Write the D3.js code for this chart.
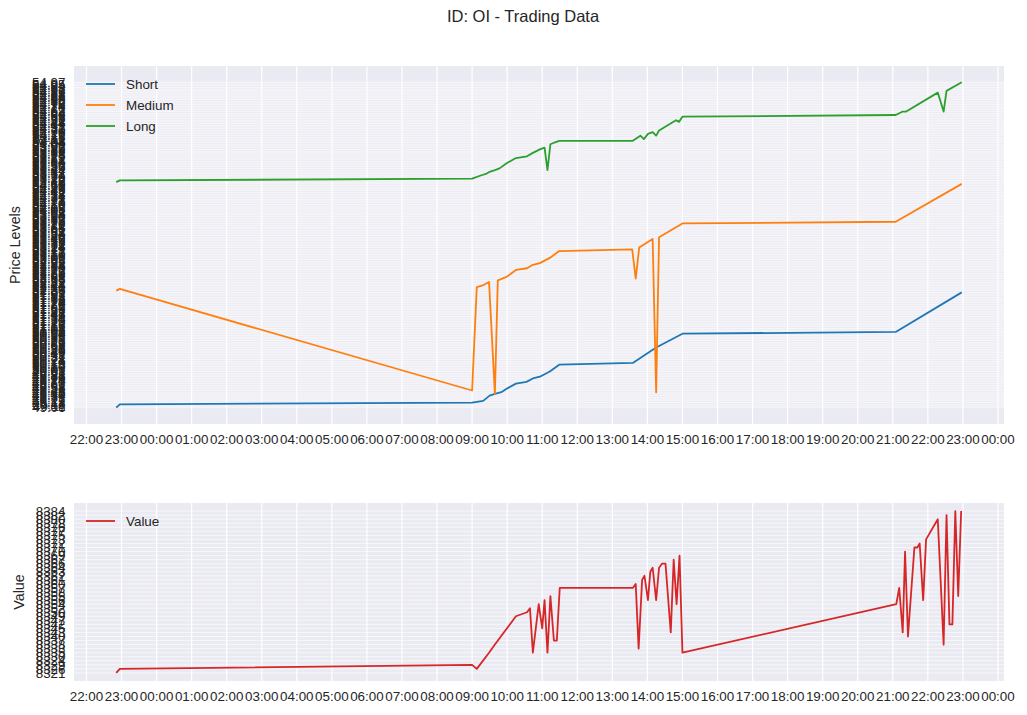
<!DOCTYPE html>
<html lang="en">
<head>
<meta charset="UTF-8">
<title>ID: OI - Trading Data</title>
<script src="https://cdnjs.cloudflare.com/ajax/libs/d3/7.8.5/d3.min.js"></script>
<style>
  body { margin: 0; background: #ffffff; }
  svg text { font-family: "Liberation Sans", Arial, sans-serif; fill: #262626; }
</style>
</head>
<body>
<svg id="chart" width="1027" height="715"></svg>
<script>
// y values are category slots (the axis is categorical, in order of first appearance)
const shortTimes = ["01-01 22:51","01-01 22:57","01-02 09:00","01-02 09:19","01-02 09:30","01-02 09:39","01-02 09:50","01-02 09:59","01-02 10:15","01-02 10:33","01-02 10:44","01-02 10:56","01-02 11:13","01-02 11:29","01-02 13:35","01-02 14:15","01-02 15:00","01-02 21:05","01-02 22:58"];
const shortLevels = [0,2,3,4,7,8,9,11,14,15,17,18,21,25,26,35,43,44,67];

const mediumTimes = ["01-01 22:51","01-01 22:57","01-02 09:00","01-02 09:08","01-02 09:18","01-02 09:29","01-02 09:39","01-02 09:44","01-02 09:59","01-02 10:15","01-02 10:34","01-02 10:44","01-02 10:56","01-02 11:13","01-02 11:29","01-02 13:34","01-02 13:40","01-02 13:46","01-02 14:09","01-02 14:15","01-02 14:20","01-02 15:00","01-02 21:05","01-02 22:58"];
const mediumLevels = [68,69,10,70,71,73,8,74,76,80,81,83,84,87,91,92,75,93,98,9,99,107,108,130];

const longTimes = ["01-01 22:51","01-01 22:57","01-02 09:00","01-02 09:16","01-02 09:25","01-02 09:30","01-02 09:39","01-02 09:47","01-02 09:59","01-02 10:15","01-02 10:34","01-02 10:44","01-02 10:56","01-02 11:04","01-02 11:09","01-02 11:14","01-02 11:21","01-02 11:29","01-02 13:35","01-02 13:48","01-02 13:54","01-02 14:01","01-02 14:09","01-02 14:15","01-02 14:20","01-02 14:49","01-02 14:54","01-02 15:00","01-02 21:05","01-02 21:17","01-02 21:23","01-02 22:17","01-02 22:27","01-02 22:32","01-02 22:58"];
const longLevels = [131,132,133,135,136,137,138,139,142,145,146,148,150,151,138,153,154,155,155,158,156,159,160,158,161,167,166,169,170,172,172,183,172,184,189];

const valueTimes = ["01-01 22:51","01-01 22:57","01-02 09:00","01-02 09:08","01-02 09:29","01-02 09:39","01-02 10:15","01-02 10:34","01-02 10:39","01-02 10:44","01-02 10:54","01-02 11:00","01-02 11:04","01-02 11:09","01-02 11:14","01-02 11:20","01-02 11:25","01-02 11:30","01-02 13:35","01-02 13:40","01-02 13:45","01-02 13:51","01-02 13:55","01-02 14:01","01-02 14:05","01-02 14:09","01-02 14:15","01-02 14:20","01-02 14:25","01-02 14:31","01-02 14:40","01-02 14:45","01-02 14:50","01-02 14:55","01-02 15:00","01-02 21:06","01-02 21:11","01-02 21:17","01-02 21:21","01-02 21:26","01-02 21:37","01-02 21:42","01-02 21:46","01-02 21:52","01-02 21:57","01-02 22:17","01-02 22:27","01-02 22:32","01-02 22:37","01-02 22:42","01-02 22:47","01-02 22:52","01-02 22:57"];
const valueLevels = [0,1,2,1,5,7,14,15,16,5,17,11,18,5,19,8,8,21,21,22,6,23,24,18,25,26,18,26,27,27,10,28,17,29,5,17,21,10,30,9,31,31,32,18,33,38,7,39,12,12,40,19,40];

// category tick labels, bottom to top
const priceLabels = (
  "49.06 49.11 49.13 49.18 49.22 49.27 49.31 49.34 49.40 49.45 49.49 49.52 49.58 49.61 49.67 49.70 49.74 49.79 49.83 49.88 " +
  "49.92 49.97 50.01 50.06 50.10 50.13 50.19 50.24 50.28 50.31 50.37 50.42 50.46 50.49 50.55 50.58 50.63 50.69 50.72 50.76 " +
  "50.81 50.85 50.90 50.94 50.99 51.03 51.08 51.12 51.16 51.21 51.25 51.30 51.34 51.39 51.43 51.47 51.52 51.56 51.61 51.65 " +
  "51.70 51.74 51.79 51.83 51.88 51.92 51.97 52.01 " +
  "52.36 52.33 52.40 52.44 52.47 52.51 52.55 52.58 52.62 52.66 52.69 52.73 52.77 52.80 52.84 52.88 52.91 52.95 52.99 53.02 " +
  "53.06 53.10 53.13 53.17 53.21 53.24 53.28 53.32 53.35 53.39 53.43 53.46 53.50 53.54 53.57 53.61 53.65 53.68 53.72 53.76 " +
  "53.79 53.83 53.87 53.90 53.94 53.98 54.01 54.05 54.09 54.12 54.16 54.20 54.23 54.27 54.31 54.34 54.38 54.42 54.45 54.49 " +
  "54.53 54.56 54.60 " +
  "53.19 53.22 53.26 53.29 53.34 53.37 53.41 53.44 53.49 53.53 53.56 53.60 53.64 53.67 53.71 53.75 53.78 53.82 53.86 53.89 " +
  "53.93 53.97 54.00 54.04 54.08 54.11 54.15 54.19 54.22 54.26 54.30 54.33 54.37 54.41 54.44 54.48 54.52 54.55 54.59 54.62 " +
  "54.64 54.67 54.69 54.71 54.74 54.76 54.78 54.80 54.82 54.84 54.86 54.88 54.89 54.91 54.92 54.93 54.94 54.95 54.97"
).split(" ");

const valueLabels = ["8321","8326","8329","8324","8330","8335","8333","8338","8337","8340","8343","8345","8342","8347","8349","8350","8352","8354","8356","8355","8358","8357","8360","8361","8362","8363","8364","8366","8367","8369","8370","8371","8372","8373","8375","8377","8376","8378","8380","8382","8384"];

const parse = d3.timeParse("%Y-%m-%d %H:%M");
const toDate = s => parse("2024-" + s);

const svg = d3.select("#chart");
svg.append("rect").attr("width", 1027).attr("height", 715).attr("fill", "#ffffff");

const left = 74, right = 1004;

// shared time axis, 5% margin like matplotlib
const allTimes = [shortTimes, mediumTimes, longTimes, valueTimes].flat().map(toDate);
const [t0, t1] = d3.extent(allTimes);
const pad = (t1 - t0) * 0.05;
const x = d3.scaleTime()
    .domain([new Date(+t0 - pad), new Date(+t1 + pad)])
    .range([left, right]);
const hourTicks = x.ticks(d3.timeHour.every(1));
const fmt = d3.timeFormat("%H:%M");

svg.append("text")
    .attr("x", 523).attr("y", 16)
    .attr("dy", "0.35em")
    .attr("text-anchor", "middle")
    .style("font-size", "16.5px")
    .text("ID: OI - Trading Data");

function drawPanel(cfg) {
    const n = cfg.labels.length;
    const span = n - 1;
    const y = d3.scaleLinear()
        .domain([-0.05 * span, span * 1.05])
        .range([cfg.bottom, cfg.top]);

    const g = svg.append("g");
    g.append("rect")
        .attr("x", left).attr("y", cfg.top)
        .attr("width", right - left).attr("height", cfg.bottom - cfg.top)
        .attr("fill", "#eaeaf2");

    // grid
    g.selectAll(".hgrid").data(d3.range(n)).enter().append("line")
        .attr("x1", left).attr("x2", right)
        .attr("y1", d => y(d)).attr("y2", d => y(d))
        .attr("stroke", "#ffffff").attr("stroke-width", 0.8).attr("stroke-opacity", 0.75);
    g.selectAll(".vgrid").data(hourTicks).enter().append("line")
        .attr("x1", d => x(d)).attr("x2", d => x(d))
        .attr("y1", cfg.top).attr("y2", cfg.bottom)
        .attr("stroke", "#ffffff").attr("stroke-width", 1.2);

    // y tick labels (all categories, they overlap)
    g.selectAll(".ylab").data(cfg.labels).enter().append("text")
        .attr("x", left - 8.5)
        .attr("y", (d, i) => y(i))
        .attr("dy", "0.35em")
        .attr("text-anchor", "end")
        .style("font-size", "13.4px")
        .text(d => d);

    // x tick labels
    g.selectAll(".xlab").data(hourTicks).enter().append("text")
        .attr("x", d => x(d))
        .attr("y", cfg.bottom + 15)
        .attr("dy", "0.35em")
        .attr("text-anchor", "middle")
        .style("font-size", "13.4px")
        .text(d => fmt(d));

    // y axis title
    g.append("text")
        .attr("transform", `translate(${cfg.ylabelX},${(cfg.top + cfg.bottom) / 2}) rotate(-90)`)
        .attr("dy", "0.35em")
        .attr("text-anchor", "middle")
        .style("font-size", "14.3px")
        .text(cfg.ylabel);

    const line = d3.line().x(d => x(d[0])).y(d => y(d[1]));
    cfg.series.forEach((s, k) => {
        const pts = s.times.map((t, i) => [toDate(t), s.levels[i]]);
        g.append("path")
            .attr("d", line(pts))
            .attr("fill", "none")
            .attr("stroke", s.color)
            .attr("stroke-width", 1.8)
            .attr("stroke-linejoin", "round");

        const ly = cfg.legendY + k * 21;
        g.append("line")
            .attr("x1", 86).attr("x2", 115)
            .attr("y1", ly).attr("y2", ly)
            .attr("stroke", s.color).attr("stroke-width", 1.8);
        g.append("text")
            .attr("x", 126).attr("y", ly)
            .attr("dy", "0.35em")
            .style("font-size", "13.4px")
            .text(s.name);
    });
}

drawPanel({
    top: 66, bottom: 424,
    labels: priceLabels,
    ylabel: "Price Levels", ylabelX: 15,
    legendY: 84,
    series: [
        { name: "Short", times: shortTimes, levels: shortLevels, color: "#1f77b4" },
        { name: "Medium", times: mediumTimes, levels: mediumLevels, color: "#ff7f0e" },
        { name: "Long", times: longTimes, levels: longLevels, color: "#2ca02c" }
    ]
});

drawPanel({
    top: 503, bottom: 681,
    labels: valueLabels,
    ylabel: "Value", ylabelX: 19,
    legendY: 521,
    series: [
        { name: "Value", times: valueTimes, levels: valueLevels, color: "#d62728" }
    ]
});
</script>
</body>
</html>
